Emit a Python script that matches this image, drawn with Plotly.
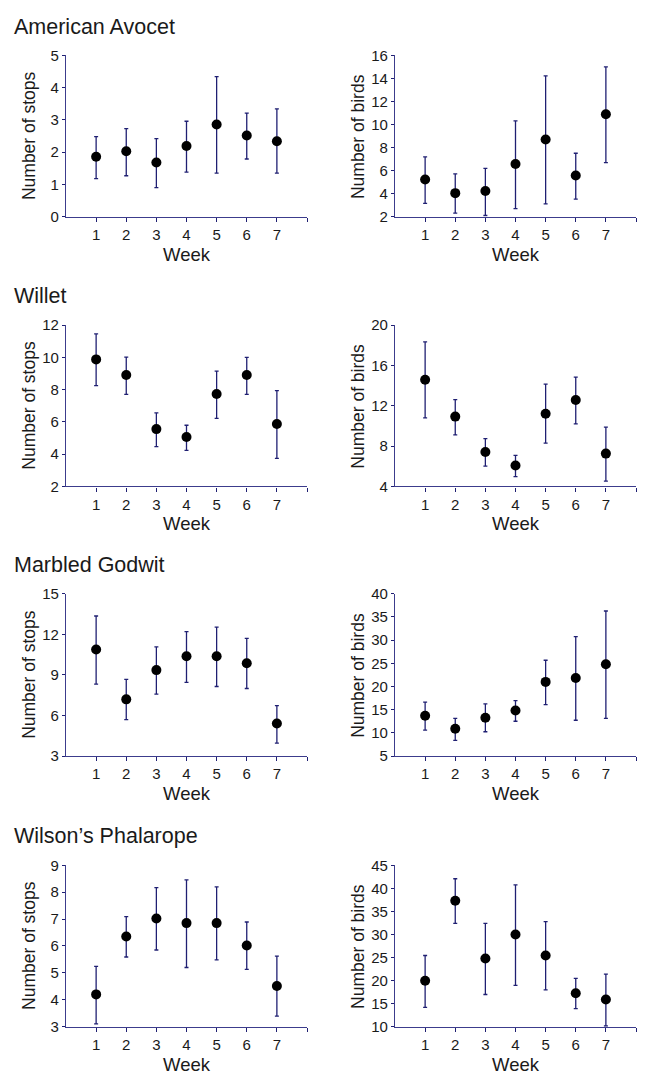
import plotly.graph_objects as go

weeks = [1, 2, 3, 4, 5, 6, 7]

species = ["American Avocet", "Willet", "Marbled Godwit", "Wilson\u2019s Phalarope"]

# Number of stops (mean, upper bound, lower bound)
aa_stops = [1.86, 2.03, 1.68, 2.19, 2.86, 2.52, 2.34]
aa_stops_hi = [2.48, 2.73, 2.42, 2.96, 4.34, 3.21, 3.34]
aa_stops_lo = [1.18, 1.27, 0.90, 1.38, 1.35, 1.79, 1.35]

wi_stops = [9.87, 8.90, 5.55, 5.06, 7.72, 8.90, 5.87]
wi_stops_hi = [11.45, 10.01, 6.56, 5.79, 9.14, 9.99, 7.94]
wi_stops_lo = [8.25, 7.70, 4.47, 4.23, 6.22, 7.70, 3.74]

mg_stops = [10.88, 7.19, 9.35, 10.37, 10.37, 9.86, 5.40]
mg_stops_hi = [13.35, 8.67, 11.07, 12.19, 12.53, 11.70, 6.73]
mg_stops_lo = [8.31, 5.69, 7.58, 8.45, 8.14, 7.99, 3.95]

wp_stops = [4.20, 6.35, 7.02, 6.85, 6.85, 6.02, 4.51]
wp_stops_hi = [5.24, 7.09, 8.17, 8.46, 8.20, 6.89, 5.62]
wp_stops_lo = [3.10, 5.59, 5.85, 5.20, 5.48, 5.13, 3.39]

# Number of birds (mean, upper bound, lower bound)
aa_birds = [5.24, 4.05, 4.24, 6.57, 8.70, 5.58, 10.89]
aa_birds_hi = [7.20, 5.72, 6.20, 10.32, 14.22, 7.51, 15.01]
aa_birds_lo = [3.16, 2.31, 2.11, 2.71, 3.11, 3.53, 6.69]

wi_birds = [14.58, 10.92, 7.41, 6.08, 11.21, 12.57, 7.25]
wi_birds_hi = [18.32, 12.60, 8.74, 7.08, 14.13, 14.84, 9.88]
wi_birds_lo = [10.79, 9.10, 6.01, 4.97, 8.29, 10.20, 4.52]

mg_birds = [13.70, 10.87, 13.27, 14.83, 20.98, 21.83, 24.80]
mg_birds_hi = [16.60, 13.13, 16.24, 16.95, 25.65, 30.74, 36.26]
mg_birds_lo = [10.59, 8.39, 10.23, 12.50, 16.10, 12.71, 13.13]

wp_birds = [19.96, 37.31, 24.79, 29.99, 25.43, 17.25, 15.90]
wp_birds_hi = [25.43, 42.08, 32.40, 40.73, 32.76, 20.46, 21.38]
wp_birds_lo = [14.20, 32.40, 16.97, 18.96, 17.97, 13.91, 10.14]

# y-axis ranges and tick steps
stops_ranges = [(0, 5, 1), (2, 12, 2), (3, 15, 3), (3, 9, 1)]
birds_ranges = [(2, 16, 2), (4, 20, 4), (5, 40, 5), (10, 45, 5)]

stops_data = [(aa_stops, aa_stops_hi, aa_stops_lo), (wi_stops, wi_stops_hi, wi_stops_lo),
              (mg_stops, mg_stops_hi, mg_stops_lo), (wp_stops, wp_stops_hi, wp_stops_lo)]
birds_data = [(aa_birds, aa_birds_hi, aa_birds_lo), (wi_birds, wi_birds_hi, wi_birds_lo),
              (mg_birds, mg_birds_hi, mg_birds_lo), (wp_birds, wp_birds_hi, wp_birds_lo)]

x_end = 8

# page body has an 8px margin: figure is sized to fit the window inside it
OFF = 8
W, H = 645 - 2 * OFF, 1083 - 2 * OFF
FONT = "Arial, Liberation Sans, sans-serif"
AXIS_COLOR = "#3c3c8c"
ERR_COLOR = "#1f1f72"
TXT = "#1a1a1a"

col_px = [(66, 307), (395, 636)]
row_px = [(47, 211), (321, 485), (594, 759), (870, 1034)]
title_y_px = [18, 292, 565, 840]


def px_x(p):
    return (p - OFF) / W


def px_y(p):
    return 1 - (p - OFF) / H


fig = go.Figure()
layout = dict(
    width=W, height=H, margin=dict(l=0, r=0, t=0, b=0),
    paper_bgcolor="white", plot_bgcolor="white", showlegend=False,
    font=dict(family=FONT, color=TXT),
)
annotations = []

idx = 0
for r in range(4):
    for c in range(2):
        idx += 1
        sfx = "" if idx == 1 else str(idx)
        data = stops_data[r] if c == 0 else birds_data[r]
        rng = stops_ranges[r] if c == 0 else birds_ranges[r]
        ytitle = "Number of stops" if c == 0 else "Number of birds"
        mean, hi, lo = data
        fig.add_trace(go.Scatter(
            x=weeks, y=mean, mode="markers",
            marker=dict(color="black", size=10),
            error_y=dict(type="data", symmetric=False,
                         array=[h - m for h, m in zip(hi, mean)],
                         arrayminus=[m - l for m, l in zip(mean, lo)],
                         color=ERR_COLOR, thickness=1.3, width=2),
            cliponaxis=False,
            xaxis="x" + sfx, yaxis="y" + sfx,
        ))
        x0, x1 = col_px[c]
        y0, y1 = row_px[r]
        ymin, ymax, step = rng
        yt = list(range(ymin, ymax + 1, step))
        layout["xaxis" + sfx] = dict(
            domain=[px_x(x0), px_x(x1)], range=[0, x_end], anchor="y" + sfx,
            showgrid=False, zeroline=False, showline=True, linecolor=AXIS_COLOR, linewidth=1.3,
            ticks="outside", ticklen=4, tickwidth=1.3, tickcolor=ERR_COLOR,
            tickvals=weeks + [x_end], ticktext=[str(w) for w in weeks] + [""],
            tickfont=dict(size=15, family=FONT, color=TXT),
        )
        layout["yaxis" + sfx] = dict(
            domain=[px_y(y1), px_y(y0)], range=[ymin, ymax], anchor="x" + sfx,
            showgrid=False, zeroline=False, showline=True, linecolor=AXIS_COLOR, linewidth=1.3,
            ticks="outside", ticklen=3, tickwidth=1.3, tickcolor=ERR_COLOR,
            tickvals=yt, tickfont=dict(size=15, family=FONT, color=TXT),
        )
        annotations.append(dict(
            text=ytitle, textangle=-90, xref="paper", yref="paper",
            x=px_x(x0 - 37), y=px_y((y0 + y1) / 2),
            xanchor="center", yanchor="middle", showarrow=False,
            font=dict(size=17.5, family=FONT, color=TXT),
        ))
        annotations.append(dict(
            text="Week", xref="paper", yref="paper",
            x=px_x((x0 + x1) / 2), y=px_y(y1 + 38),
            xanchor="center", yanchor="middle", showarrow=False,
            font=dict(size=18.5, family=FONT, color=TXT),
        ))
    annotations.append(dict(
        text=species[r], xref="paper", yref="paper",
        x=px_x(12), y=px_y(title_y_px[r]),
        xanchor="left", yanchor="middle", showarrow=False,
        font=dict(size=21.5, family=FONT, color=TXT),
    ))

layout["annotations"] = annotations
fig.update_layout(**layout)
fig.write_html("out.html")
